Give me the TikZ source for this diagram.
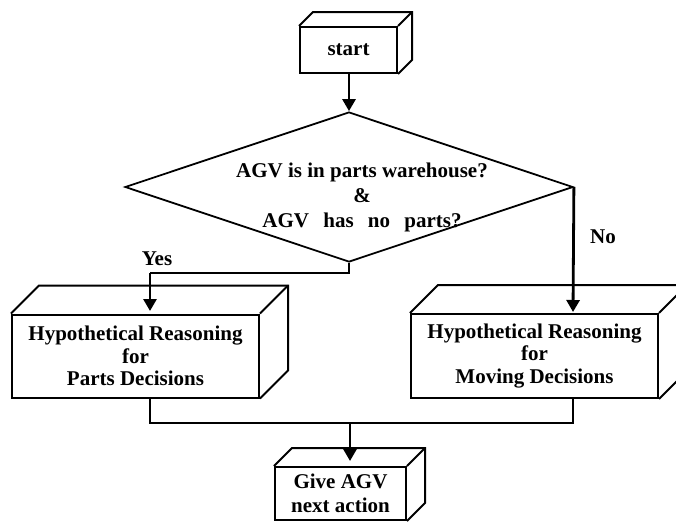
\documentclass[tikz,border=0pt]{standalone}
\usepackage{fontspec}
\setmainfont{Liberation Serif}
\usetikzlibrary{arrows.meta,calc,shapes.geometric}
\newcommand\mycuboid[2]{%
  \draw[boxline] (#1.north west) -- ++(#2,-#2) -- ($(#1.north east)+(#2,-#2)$) -- ($(#1.south east)+(#2,-#2)$) -- (#1.south east);
  \draw[boxline] (#1.north east) -- ++(#2,-#2);}
\begin{document}
\begin{tikzpicture}[x=1pt,y=-1pt,
  boxline/.style={line width=2pt, line join=miter},
  face/.style={draw, line width=2pt, inner sep=0pt, align=center,
    font=\bfseries\fontsize{21}{22.5}\selectfont},
  lbl/.style={font=\bfseries\fontsize{21}{24}\selectfont, inner sep=0pt},
  plain/.style={line width=1.8pt},
  arr/.style={line width=2.8pt, -{Triangle[length=12pt,width=13pt]}}]
\useasboundingbox (0,0) rectangle (676,523);

% start
\node[face, minimum width=97pt, minimum height=46pt] (start) at (348.5,50) {start};
\mycuboid{start}{14}

% decision
\node[draw, diamond, line width=1.8pt, inner sep=0pt, minimum width=448pt, minimum height=150pt] (dec) at (349,187) {};
\node[lbl, align=center, font=\bfseries\fontsize{21}{25}\selectfont] (dectext) at (362,197)
  {AGV is in parts warehouse?\\ \&\\ AGV\hspace{9pt} has\hspace{9pt} no\hspace{9pt} parts?};

% process boxes
\node[face, minimum width=247pt, minimum height=83pt] (left) at (135.5,356)
  {Hypothetical Reasoning\\ for\\ Parts Decisions};
\mycuboid{left}{28}
\node[face, minimum width=247pt, minimum height=84pt] (right) at (534.5,356)
  {Hypothetical Reasoning\\ for\\ Moving Decisions};
\mycuboid{right}{28}

% final
\node[face, minimum width=131pt, minimum height=53pt, font=\bfseries\fontsize{21}{24}\selectfont] (give) at (340.5,493.5)
  {Give AGV\\ next action};
\mycuboid{give}{18}

% labels
\node[lbl] (yes) at (157,259) {Yes};
\node[lbl] (no) at (603,237) {No};

% coordinates
\coordinate (yk) at (150,273);
\coordinate (yesend) at (150,311);
\coordinate (noend) at (573,312);
\coordinate (lbot) at (150,423);
\coordinate (rbot) at (573,423);
\coordinate (mid) at (350,423);
\coordinate (giveend) at (350,461);

% connectors
\draw[arr] (start.south -| dec.north) -- (dec.north);
\draw[plain] (dec.south) |- (yk);
\draw[arr] (yk) -- (yesend);
\draw[arr] (dec.east) -- (noend);
\draw[plain] (left.south -| lbot) -- (lbot) -- (rbot) -- (right.south -| rbot);
\draw[arr] (mid) -- (giveend);
\end{tikzpicture}
\end{document}
